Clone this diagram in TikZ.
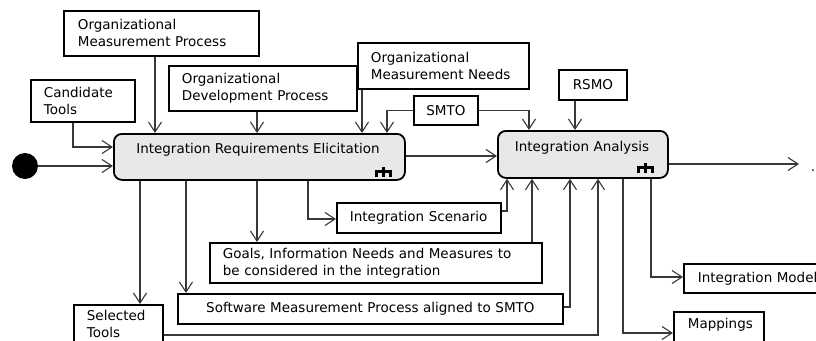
\documentclass[tikz,border=0pt]{standalone}
\usepackage{fontspec}
\setmainfont{DejaVu Sans}
\usetikzlibrary{arrows.meta}
\definecolor{actfill}{HTML}{E8E8E8}
\definecolor{linegray}{HTML}{383838}
\newcommand\bl[1]{\mbox{#1}}
\newcommand\drawrake[2]{\draw[line width=2.2pt] (#1,#2) -- ++(0,10) (#1-7,#2+10) -- (#1-7,#2+4.5) -- (#1+7,#2+4.5) -- (#1+7,#2+10);}
\begin{document}
\begin{tikzpicture}[x=1pt,y=-1pt,
  txt/.style={font=\fontsize{13.5}{17}\selectfont},
  box/.style={txt, draw=black, line width=1.8pt, rectangle, anchor=north west, inner sep=0pt, align=left},
  cbox/.style={box, align=center},
  act/.style={draw=black, line width=1.8pt, rounded corners=8pt, fill=actfill, rectangle, anchor=north west, inner sep=0pt},
  flow/.style={draw=linegray, line width=1.1pt, -{Straight Barb[length=10pt,width=13pt,line width=1.1pt]}},
  conn/.style={draw=linegray, line width=1.1pt}]
\useasboundingbox (0,0) rectangle (816,340);
\clip (0,0) rectangle (816,340);

% input boxes
\node[box, minimum width=195pt, minimum height=45pt, text width=167pt] (omp) at (63,10) {\bl{Organizational}\\\bl{Measurement Process}};
\node[box, minimum width=104pt, minimum height=42pt, text width=78pt] (cand) at (30,79) {\bl{Candidate}\\\bl{Tools}};
\node[box, minimum width=188pt, minimum height=45pt, text width=162pt] (odp) at (168,65) {\bl{Organizational}\\\bl{Development Process}};
\node[box, minimum width=171pt, minimum height=46pt, text width=145pt] (omn) at (357,42) {\bl{Organizational}\\\bl{Measurement Needs}};
\node[cbox, minimum width=64pt, minimum height=29pt, text width=40pt] (smto) at (413,95) {\bl{SMTO}};
\node[cbox, minimum width=68pt, minimum height=30pt, text width=42pt] (rsmo) at (558,69) {\bl{RSMO}};

% activities
\node[act, minimum width=291pt, minimum height=46pt] (ire) at (113,133) {};
\node[txt] (iret) at (258,150) {Integration Requirements Elicitation};
\node[act, minimum width=170pt, minimum height=47pt] (ia) at (497,130) {};
\node[txt] (iat) at (582,148) {Integration Analysis};
\drawrake{383.5}{167}
\drawrake{645.5}{163}

\node[circle, fill=black, minimum size=26pt, inner sep=0pt] (start) at (25,166) {};
\coordinate (endpt) at (799,164);
\node[txt, anchor=base] (dotlbl) at (813,171) {.};

% output boxes
\node[box, minimum width=164pt, minimum height=30pt, text width=138pt] (is) at (336,202) {\bl{Integration Scenario}};
\node[box, minimum width=332pt, minimum height=40pt, text width=306pt] (goals) at (209,242) {\bl{Goals, Information Needs and Measures to}\\\bl{be considered in the integration}};
\node[cbox, minimum width=385pt, minimum height=30pt, text width=359pt] (smp) at (177,293) {\bl{Software Measurement Process aligned to SMTO}};
\node[box, minimum width=89pt, minimum height=38pt, text width=63pt] (sel) at (73,304) {\bl{Selected}\\\bl{Tools}};
\node[box, minimum width=90pt, minimum height=40pt, text width=62pt] (map) at (673,311) {\bl{Mappings}\\\mbox{}};
\node[box, minimum width=150pt, minimum height=29pt, text width=122pt] (imod) at (683,263) {\bl{Integration Model}};

% connectors into IRE
\draw[flow] (start.east) -- (start.east -| ire.west);
\draw[flow] (cand.south -| 73,0) |- (ire.west |- 0,147);
\draw[flow] (omp.south -| 155,0) -- (ire.north -| 155,0);
\draw[flow] (odp.south -| 257,0) -- (ire.north -| 257,0);
\draw[flow] (omn.south -| 362,0) -- (ire.north -| 362,0);
\draw[flow] (smto.west) -| (ire.north -| 387,0);
% into IA
\draw[flow] (smto.east) -| (ia.north -| 529,0);
\draw[flow] (rsmo.south -| 575,0) -- (ia.north -| 575,0);
\draw[flow] (ire.east |- 0,156) -- (ia.west |- 0,156);
\draw[flow] (ia.east |- 0,164) -- (endpt);
% outputs of IRE
\draw[flow] (ire.south -| 140,0) -- (sel.north -| 140,0);
\draw[flow] (ire.south -| 186,0) -- (smp.north -| 186,0);
\draw[flow] (ire.south -| 257,0) -- (goals.north -| 257,0);
\draw[flow] (ire.south -| 308,0) |- (is.west |- 0,219);
% inputs to IA from below
\draw[flow] (is.east |- 0,211) -| (ia.south -| 507,0);
\draw[flow] (goals.north -| 532,0) -- (ia.south -| 532,0);
\draw[flow] (smp.east |- 0,307) -| (ia.south -| 570,0);
\draw[flow] (sel.east |- 0,335) -| (ia.south -| 598,0);
% outputs of IA
\draw[flow] (ia.south -| 623,0) |- (map.west |- 0,333);
\draw[flow] (ia.south -| 651,0) |- (imod.west |- 0,277);
\end{tikzpicture}
\end{document}
